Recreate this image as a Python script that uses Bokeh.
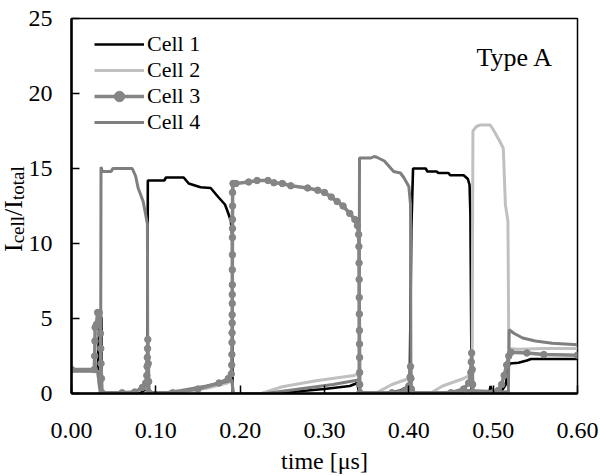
from bokeh.plotting import figure
from bokeh.layouts import row
from bokeh.models import (Range1d, FixedTicker, NumeralTickFormatter, Label,
                          Legend, LegendItem, Div)
from bokeh.embed import file_html
from bokeh.resources import INLINE

# ---------------- data (time in microseconds, Icell/Itotal) ----------------
t1 = [0.000, 0.031, 0.0335, 0.0355, 0.0360, 0.0800, 0.0890, 0.0900, 0.0905,
      0.1100, 0.1120, 0.1330, 0.1390, 0.1530, 0.1650, 0.1740, 0.1820, 0.1860,
      0.1890, 0.1905, 0.1910, 0.2350, 0.2700, 0.3000, 0.3300, 0.3390, 0.3410,
      0.3700, 0.3900, 0.4010, 0.4030, 0.4050, 0.4200, 0.4220, 0.4330, 0.4350,
      0.4470, 0.4490, 0.4650, 0.4700, 0.4720, 0.4730, 0.4745, 0.4950, 0.4970,
      0.4990, 0.5080, 0.5150, 0.5180, 0.5200, 0.5300, 0.5400, 0.5450, 0.6000]
v1 = [1.5, 1.5, 5.5, 5.0, 0.0, 0.0, 0.3, 0.5, 14.2,
      14.2, 14.4, 14.4, 14.0, 13.75, 13.7, 13.1, 12.6, 12.0,
      11.5, 10.5, 0.0, 0.0, 0.15, 0.3, 0.5, 0.7, 0.0,
      0.0, 0.2, 0.5, 11.0, 15.0, 15.0, 14.8, 14.8, 14.7,
      14.7, 14.55, 14.55, 14.3, 13.9, 12.0, 0.0, 0.0, 0.5,
      0.0, 0.0, 0.6, 1.8, 2.0, 2.05, 2.2, 2.3, 2.3]

t2 = [0.000, 0.031, 0.0340, 0.0700, 0.0890, 0.0910, 0.1300, 0.1600, 0.1850,
      0.1900, 0.1920, 0.2250, 0.2500, 0.2900, 0.3350, 0.3400, 0.3420, 0.3600,
      0.3800, 0.4000, 0.4030, 0.4250, 0.4400, 0.4650, 0.4750, 0.4760, 0.4800,
      0.4850, 0.4965, 0.5000, 0.5040, 0.5080, 0.5120, 0.5145, 0.5175, 0.5185,
      0.5300, 0.5600, 0.6000]
v2 = [1.5, 1.5, 0.0, 0.0, 0.4, 0.0, 0.1, 0.35, 0.7,
      0.9, 0.0, 0.0, 0.45, 0.85, 1.2, 1.3, 0.0, 0.0,
      0.6, 1.0, 0.0, 0.0, 0.5, 1.0, 1.3, 17.5, 17.8,
      17.9, 17.9, 17.6, 17.2, 16.8, 16.35, 12.6, 11.5, 3.0,
      2.95, 3.0, 3.0]

t3 = [0.0000, 0.0270, 0.0275, 0.0278, 0.0280, 0.0295, 0.0310, 0.0330, 0.0343,
      0.0347, 0.0350, 0.0355, 0.0360, 0.0600, 0.0750, 0.0840, 0.0880, 0.0893,
      0.0896, 0.0899, 0.0902, 0.0905, 0.0910, 0.0915, 0.0920, 0.1200, 0.1500,
      0.1750, 0.1860, 0.1895, 0.1900, 0.1902, 0.1903, 0.1904, 0.1905, 0.1905,
      0.1906, 0.1906, 0.1907, 0.1907, 0.1908, 0.1908, 0.1909, 0.1909, 0.1910,
      0.1910, 0.1915, 0.1950, 0.2100, 0.2200, 0.2330, 0.2400, 0.2500, 0.2600,
      0.2800, 0.2920, 0.3000, 0.3080, 0.3150, 0.3220, 0.3300, 0.3360, 0.3390,
      0.3405, 0.3408, 0.3410, 0.3411, 0.3412, 0.3413, 0.3414, 0.3415, 0.3416,
      0.3417, 0.3418, 0.3420, 0.3800, 0.3950, 0.4000, 0.4015, 0.4020, 0.4025,
      0.4030, 0.4040, 0.4500, 0.4650, 0.4710, 0.4735, 0.4740, 0.4745, 0.4752,
      0.4757, 0.4760, 0.5000, 0.5060, 0.5100, 0.5130, 0.5160, 0.5185, 0.5210,
      0.5400, 0.5600, 0.6000]
v3 = [1.6, 1.6, 2.5, 3.5, 4.4, 4.6, 5.4, 5.4, 4.0,
      3.0, 2.0, 1.0, 0.05, 0.05, 0.1, 0.4, 0.7, 1.2,
      1.8, 2.4, 3.0, 3.6, 2.0, 0.8, 0.05, 0.05, 0.3,
      0.7, 1.0, 1.3, 1.9, 2.6, 3.4, 4.05, 4.7, 5.25,
      6.0, 6.6, 7.25, 8.25, 9.25, 10.4, 11.0, 11.6, 12.5,
      13.4, 14.0, 14.0, 14.1, 14.2, 14.2, 14.05, 14.0, 13.85,
      13.7, 13.55, 13.4, 13.1, 12.8, 12.5, 12.0, 11.6, 11.2,
      10.6, 9.8, 8.7, 7.6, 6.4, 5.3, 4.2, 3.3, 2.4,
      1.4, 0.6, 0.05, 0.05, 0.2, 0.5, 1.1, 1.8, 1.0,
      0.3, 0.05, 0.05, 0.3, 0.7, 1.4, 2.1, 2.7, 1.6,
      0.6, 0.05, 0.05, 0.2, 0.6, 1.2, 1.9, 2.5, 2.75,
      2.7, 2.6, 2.55]

t4 = [0.000, 0.031, 0.0335, 0.0345, 0.0350, 0.0365, 0.0470, 0.0490, 0.0720,
      0.0760, 0.0790, 0.0850, 0.0880, 0.0900, 0.0905, 0.0910, 0.1050, 0.1300,
      0.1600, 0.1850, 0.1900, 0.1920, 0.2300, 0.2700, 0.3100, 0.3400, 0.3410,
      0.3415, 0.3550, 0.3590, 0.3620, 0.3710, 0.3820, 0.3900, 0.3940, 0.4000,
      0.4020, 0.4025, 0.4300, 0.4700, 0.5180, 0.5190, 0.5250, 0.5350, 0.5500,
      0.5700, 0.6000]
v4 = [1.5, 1.5, 0.3, 0.3, 15.1, 14.8, 14.8, 15.0, 15.0,
      14.5, 13.7, 12.8, 11.9, 11.3, 0.0, 0.0, 0.0, 0.2,
      0.5, 0.8, 0.9, 0.0, 0.0, 0.3, 0.6, 0.9, 1.0,
      15.7, 15.7, 15.8, 15.75, 15.5, 14.8, 14.7, 14.4, 13.8,
      12.6, 0.0, 0.0, 0.2, 0.1, 4.25, 4.0, 3.7, 3.5,
      3.35, 3.25]

series_names = ["Cell 1", "Cell 2", "Cell 3", "Cell 4"]
x_ticks = [0.0, 0.1, 0.2, 0.3, 0.4, 0.5, 0.6]
y_ticks = [0, 5, 10, 15, 20, 25]
ylabel_main = ["I", "/I"]
ylabel_sub = ["cell", "total"]

FONT = "Liberation Serif"
LEFT_W = 25
H = 476

p = figure(width=600 - LEFT_W, height=H, output_backend="svg",
           toolbar_location=None,
           x_range=Range1d(0, 0.6), y_range=Range1d(0, 25),
           min_border_left=70 - LEFT_W, min_border_right=23, min_border_top=18,
           min_border_bottom=82)
p.background_fill_color = "white"
p.border_fill_color = "white"
p.outline_line_color = "black"
p.outline_line_width = 1.5
p.xgrid.visible = False
p.ygrid.visible = False

for ax in (p.xaxis[0], p.yaxis[0]):
    ax.axis_line_width = 2.5
    ax.axis_line_color = "black"
    ax.major_tick_in = 8
    ax.major_tick_out = 0
    ax.major_tick_line_width = 1.5
    ax.minor_tick_line_color = None
    ax.major_label_text_font = FONT
    ax.major_label_text_font_size = "24px"
    ax.major_label_text_color = "black"

p.xaxis.ticker = FixedTicker(ticks=x_ticks)
p.yaxis.ticker = FixedTicker(ticks=y_ticks)
p.xaxis.formatter = NumeralTickFormatter(format="0.00")
p.yaxis.formatter = NumeralTickFormatter(format="0")
p.xaxis.major_label_standoff = 29
p.yaxis.major_label_standoff = 19
p.xaxis.axis_label = "time [μs]"
p.xaxis.axis_label_text_font = FONT
p.xaxis.axis_label_text_font_size = "24px"
p.xaxis.axis_label_text_font_style = "normal"
p.xaxis.axis_label_text_color = "black"
p.xaxis.axis_label_standoff = 7

r1 = p.line(t1, v1, line_color="black", line_width=2.6)
r2 = p.line(t2, v2, line_color="#c0c0c0", line_width=3)
r4 = p.line(t4, v4, line_color="#7f7f7f", line_width=3)
r3l = p.line(t3, v3, line_color="#858585", line_width=3.5)
r3s = p.scatter(t3, v3, size=6.5, fill_color="#858585", line_color="#858585")

legend = Legend(items=[
    LegendItem(label=series_names[0], renderers=[r1]),
    LegendItem(label=series_names[1], renderers=[r2]),
    LegendItem(label=series_names[2], renderers=[r3l, r3s]),
    LegendItem(label=series_names[3], renderers=[r4]),
], location=(23, 258))
legend.glyph_width = 50
legend.glyph_height = 26
legend.label_height = 26
legend.spacing = 0
legend.padding = 0
legend.margin = 0
legend.label_standoff = 3
legend.border_line_alpha = 0
legend.background_fill_alpha = 0
legend.label_text_font = FONT
legend.label_text_font_size = "22px"
legend.label_text_color = "black"
p.add_layout(legend, "center")

p.add_layout(Label(x=405, y=336, x_units="screen", y_units="screen",
                   text="Type A", text_font=FONT, text_font_size="26px",
                   text_color="black", text_baseline="alphabetic"))

# ---- y-axis title I_cell / I_total as real (HTML) text, rotated with CSS ----
sub_style = "font-size:19px;position:relative;top:2px;"
title_html = (
    f'<div style="position:relative;width:{LEFT_W}px;height:{H}px;overflow:visible;">'
    f'<span style="position:absolute;left:1px;top:252px;white-space:nowrap;'
    f'font-family:\'{FONT}\';font-size:26px;line-height:26px;color:black;'
    f'transform:rotate(-90deg);transform-origin:0 0;">'
    f'{ylabel_main[0]}<span style="{sub_style}">{ylabel_sub[0]}</span>'
    f'{ylabel_main[1]}<span style="{sub_style}">{ylabel_sub[1]}</span>'
    f'</span></div>'
)
ytitle = Div(text=title_html, width=LEFT_W, height=H,
             styles={"margin": "0", "padding": "0", "overflow": "visible"})

layout = row(ytitle, p, spacing=0)
open("out.html", "w").write(file_html(layout, INLINE))
